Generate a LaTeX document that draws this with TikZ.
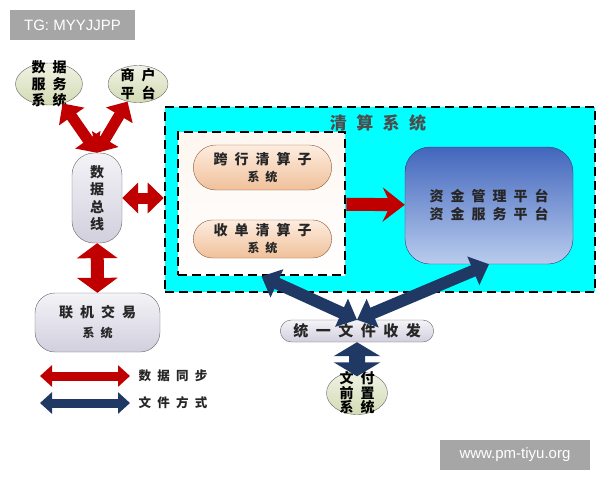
\documentclass[tikz,border=0pt]{standalone}
\usepackage{fontspec}
\setmainfont{Liberation Sans}
\newfontfamily\cjk[LetterSpace=50]{Noto Sans CJK SC}
\newfontfamily\cjkwide[LetterSpace=55]{Noto Sans CJK SC}
\newfontfamily\cjkplain{Noto Sans CJK SC}
\usetikzlibrary{arrows.meta,positioning,shapes.geometric,shapes.misc}
\definecolor{syncred}{HTML}{C00000}
\definecolor{filenavy}{HTML}{1F3864}
\definecolor{clearcyan}{HTML}{00FFFF}
\definecolor{leafgreen}{HTML}{D3DBB4}
\definecolor{lavgray}{HTML}{D2CFDE}
\definecolor{peachtop}{HTML}{FDEDE0}
\definecolor{peachbot}{HTML}{F0C09A}
\definecolor{peachedge}{HTML}{8A5A3C}
\definecolor{fundtop}{HTML}{4266BC}
\definecolor{fundbot}{HTML}{B9CCEE}
\definecolor{markgray}{HTML}{A6A6A6}

\tikzset{
  hanzi/.style={font=\cjk\bfseries\fontsize{14}{17}\selectfont,text=black!85},
  small hanzi/.style={font=\cjk\bfseries\fontsize{12.5}{15}\selectfont,text=black!85},
  oval/.style={ellipse,draw=black!60,thin,top color=leafgreen!35,bottom color=leafgreen,inner sep=0pt},
  softbox/.style={draw=black!60,thin,top color=lavgray!25,bottom color=lavgray,align=center},
  subsys/.style={rounded rectangle,draw=peachedge,thin,top color=peachtop,bottom color=peachbot,
                 minimum width=145pt,align=center,hanzi},
  dashbox/.style={draw=black,line width=2.6pt,dash pattern=on 9pt off 5pt},
  syncarrow/.style={draw=syncred,line width=11pt,{Triangle[width=30pt,length=16pt]}-{Triangle[width=30pt,length=16pt]}},
  filearrow/.style={draw=filenavy,line width=12pt,{Triangle[width=30pt,length=17pt]}-{Triangle[width=30pt,length=17pt]}},
  keyarrow/.style={line width=9pt,{Triangle[width=21pt,length=12pt]}-{Triangle[width=21pt,length=12pt]}},
  watermark/.style={fill=markgray,text=white,font=\fontsize{15}{18}\selectfont,minimum height=30pt}
}

\begin{document}
\begin{tikzpicture}[x=1pt,y=-1pt]
  \useasboundingbox (0,0) rectangle (600,480);

  % clearing system
  \node[dashbox,fill=clearcyan,minimum width=430pt,minimum height=185pt] (clearing) at (380,199.5) {};
  \node[font=\cjkwide\bfseries\fontsize{17}{20}\selectfont,text=black!70] (cleartitle) at (378,123) {清算系统};
  \node[dashbox,top color=peachtop!50,bottom color=white,minimum width=167pt,minimum height=143pt] (inner) at (261.5,203.5) {};
  \node[subsys,minimum height=45pt] (interbank) at (262.5,167.5) {跨行清算子\\{\fontsize{12}{14}\selectfont 系统}};
  \node[subsys,minimum height=38pt] (acquiring) at (262.5,239) {收单清算子\\{\fontsize{12}{14}\selectfont 系统}};
  \node[draw=fundtop!60!black,top color=fundtop,bottom color=fundbot,rounded corners=25pt,
        minimum width=168pt,minimum height=117pt,align=center,hanzi,
        font=\cjk\bfseries\fontsize{14}{18}\selectfont] (platform) at (489,205.5)
        {资金管理平台\\资金服务平台};

  % left side
  \node[oval,minimum width=67pt,minimum height=42pt,
        label={[align=center,font=\cjk\bfseries\fontsize{14}{16.5}\selectfont]center:数据\\服务\\系统}] (datasvc) at (49,84) {};
  \node[oval,minimum width=60pt,minimum height=37pt,
        label={[align=center,font=\cjk\bfseries\fontsize{14}{18}\selectfont]center:商户\\平台}] (merchant) at (138,84) {};
  \node[softbox,rounded corners=22pt,minimum width=50pt,minimum height=90pt,hanzi,
        font=\cjkplain\bfseries\fontsize{14}{17.5}\selectfont] (bus) at (97,198) {数\\据\\总\\线};
  \node[softbox,rounded corners=20pt,minimum width=125pt,minimum height=59pt,hanzi,
        font=\cjk\bfseries\fontsize{14}{20}\selectfont] (trade) at (97.5,322.5)
        {联机交易\\{\fontsize{12}{14}\selectfont 系统}};

  % file exchange
  \node[softbox,rounded rectangle,minimum width=160pt,minimum height=22pt,inner ysep=1pt,hanzi,
        font=\cjk\bfseries\fontsize{15}{17}\selectfont] (files) at (357,331) {统一文件收发};
  \node[oval,minimum width=61pt,minimum height=43pt,
        label={[align=center,font=\cjk\bfseries\fontsize{14}{14.5}\selectfont]center:文付\\前置\\系统}] (payfront) at (357,393) {};

  % connectors
  \draw[syncarrow] (bus.north) -- (datasvc);
  \draw[syncarrow] (bus.north) -- (merchant);
  \draw[syncarrow] (bus) -- (clearing.west |- bus);
  \draw[syncarrow,line width=13pt,{Triangle[width=40pt,length=15pt]}-{Triangle[width=40pt,length=15pt]}] (bus) -- (trade);
  \draw[draw=syncred,line width=13pt,-{Stealth[width=34pt,length=22pt,inset=8pt]}] (inner) -- (platform);
  \draw[filearrow] (files.north) -- (inner.south);
  \draw[filearrow] (files.north) -- (platform.south);
  \draw[filearrow,line width=16pt,shorten >=-5pt,
        {Triangle[width=46pt,length=14pt]}-{Triangle[width=46pt,length=14pt]}] (files) -- (payfront);

  % legend
  \coordinate (syncL) at (40,376);
  \coordinate (syncR) at (130,376);
  \coordinate (fileL) at (40,403);
  \coordinate (fileR) at (130,403);
  \draw[keyarrow,draw=syncred] (syncL) -- (syncR);
  \draw[keyarrow,draw=filenavy] (fileL) -- (fileR);
  \node[small hanzi,right=5pt of syncR] (synctext) {数据同步};
  \node[small hanzi,right=5pt of fileR] (filetext) {文件方式};

  % marks
  \node[watermark,minimum width=125pt] (tgmark) at (72.5,25) {TG: MYYJJPP};
  \node[watermark,minimum width=150pt] (sitemark) at (515,455) {www.pm-tiyu.org};
\end{tikzpicture}
\end{document}
